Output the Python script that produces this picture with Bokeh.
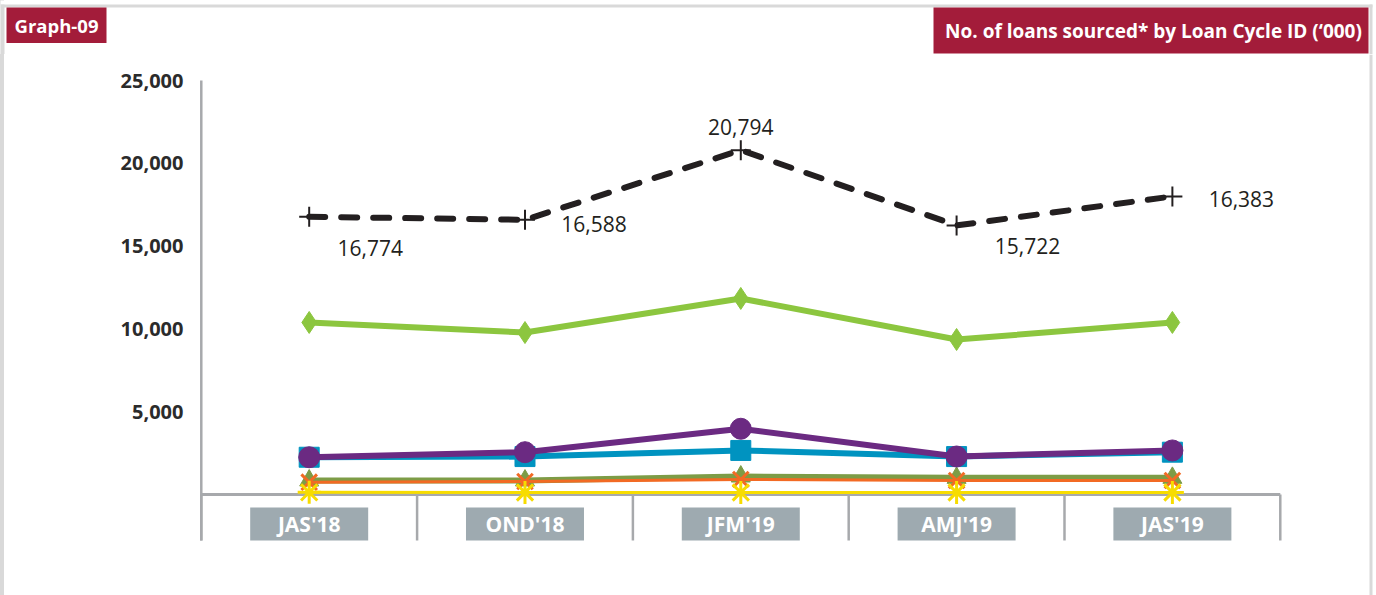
import numpy as np
from bokeh.plotting import figure
from bokeh.layouts import column
from bokeh.models import Range1d, LinearAxis, FixedTicker, NumeralTickFormatter, ColumnDataSource
from bokeh.core.properties import value
from bokeh.embed import file_html
from bokeh.resources import INLINE

# ---------------- data ----------------
categories = ["JAS'18", "OND'18", "JFM'19", "AMJ'19", "JAS'19"]
total_vals = [16774, 16588, 20794, 16250, 18000]
total_labels = ["16,774", "16,588", "20,794", "15,722", "16,383"]
green_vals = [10390, 9780, 11840, 9360, 10390]
purple_vals = [2250, 2555, 3970, 2295, 2660]
blue_vals = [2250, 2290, 2660, 2290, 2555]
olive_vals = [845, 845, 1085, 1005, 1005]
orange_vals = [745, 785, 905, 845, 845]
yellow_vals = [130, 120, 120, 120, 120]
y_ticks = [5000, 10000, 15000, 20000, 25000]
header_left = "Graph-09"
header_right = "No. of loans sourced* by Loan Cycle ID (\u2018000)"

# ---------------- styles ----------------
FONT = "Open Sans"
CRIMSON = "#a31c3a"
AXIS_GREY = "#a7a9ac"
FRAME_GREY = "#d9d9d9"
label_dx = [61, 69, 0, 71, 69]
label_dy = [31, 4, -23, 21, 3]

xpos = np.arange(len(categories)) + 0.5

# ---------------- header ----------------
W = 1376
HH = 54
h = figure(width=W, height=HH, x_range=Range1d(0, W), y_range=Range1d(HH, 0),
           output_backend="svg", toolbar_location=None, x_axis_type=None, y_axis_type=None,
           min_border=0)
h.frame_align = False
h.outline_line_color = None
h.grid.visible = False
# light grey page frame
h.quad(left=[0, 0, 1369], right=[1372, 4, 1372], top=[4, 4, 4], bottom=[7, HH, HH],
       fill_color=FRAME_GREY, line_color=None)
h.quad(left=[6, 933], right=[106, 1368], top=[7, 7], bottom=[42.6, 53],
       fill_color=CRIMSON, line_color=None)
h.text(x=[56], y=[25], text=[header_left], text_align="center", text_baseline="middle",
       text_color="white", text_font=value(FONT), text_font_style="bold", text_font_size="18.5px")
h.text(x=[1153], y=[30], text=[header_right], text_align="center", text_baseline="middle",
       text_color="white", text_font=value(FONT), text_font_style="bold", text_font_size="19px")

# ---------------- chart ----------------
PH = 595 - HH
px_per_unit = 414 / 25000.0
left_px = 190
x_px = 215.8
y_top = 25000 + (80 - HH) / px_per_unit
y_bot = -(595 - 494) / px_per_unit
x_end = -0.05 + (W - left_px) / x_px
p = figure(width=W, height=PH, x_range=Range1d(-0.05, x_end), y_range=Range1d(y_bot, y_top),
           output_backend="svg", toolbar_location=None, x_axis_type=None, y_axis_type=None,
           min_border_left=left_px, min_border_right=0, min_border_top=0, min_border_bottom=0)
p.frame_align = False
p.outline_line_color = None
p.background_fill_color = "white"
p.border_fill_color = None

yaxis = LinearAxis(ticker=FixedTicker(ticks=y_ticks), formatter=NumeralTickFormatter(format="0,0"))
yaxis.axis_line_color = None
yaxis.major_tick_line_color = None
yaxis.minor_tick_line_color = None
yaxis.major_label_standoff = 1
yaxis.major_label_text_font = FONT
yaxis.major_label_text_font_style = "bold"
yaxis.major_label_text_font_size = "20px"
yaxis.major_label_text_color = "#2b2b2b"
p.add_layout(yaxis, "left")

# right page-frame strip
frame_x = -0.05 + (1370.5 - left_px) / x_px
p.segment(x0=[frame_x], y0=[y_bot], x1=[frame_x], y1=[y_top], line_color=FRAME_GREY, line_width=3)

below = -46 / px_per_unit
# axis structure
p.segment(x0=[0], y0=[below], x1=[0], y1=[max(y_ticks)], line_color=AXIS_GREY, line_width=2.5)
bounds = list(range(len(categories) + 1))
p.segment(x0=bounds, y0=[0] * len(bounds), x1=bounds, y1=[below] * len(bounds),
          line_color=AXIS_GREY, line_width=2.5)
p.segment(x0=[0], y0=[0], x1=[len(categories)], y1=[0], line_color=AXIS_GREY, line_width=3)

# category label boxes
box_y = -29.5 / px_per_unit
p.rect(x=xpos, y=[box_y] * len(xpos), width=118, height=33, width_units="screen",
       height_units="screen", fill_color="#9eaab0", line_color=None)
p.text(x=xpos, y=[box_y] * len(xpos), text=categories, text_align="center", text_baseline="middle",
       text_color="white", text_font=value(FONT), text_font_style="bold", text_font_size="21px")

# series (bottom to top)
p.line(xpos, olive_vals, line_color="#7d9c46", line_width=6)
p.scatter(xpos, olive_vals, marker="triangle", size=19, fill_color="#7d9c46", line_color="#7d9c46")
p.line(xpos, orange_vals, line_color="#f26a24", line_width=3)
p.scatter(xpos, orange_vals, marker="x", size=22, line_color="#f26a24", line_width=3)
p.line(xpos, yellow_vals, line_color="#f7dc00", line_width=3)
p.scatter(xpos, yellow_vals, marker="asterisk", size=23, line_color="#f7dc00", line_width=3)
p.line(xpos, blue_vals, line_color="#0093c0", line_width=6)
p.scatter(xpos, blue_vals, marker="square", size=20, fill_color="#0093c0", line_color="#0093c0")
p.line(xpos, purple_vals, line_color="#6b2a82", line_width=6)
p.scatter(xpos, purple_vals, marker="circle", size=21, fill_color="#6b2a82", line_color="#6b2a82")
p.line(xpos, green_vals, line_color="#8cc63f", line_width=6)
p.scatter(xpos, green_vals, marker="diamond", size=22, fill_color="#8cc63f", line_color="#8cc63f")
p.line(xpos, total_vals, line_color="#231f20", line_width=6, line_dash="16 16", line_cap="round")
p.scatter(xpos, total_vals, marker="cross", size=20, line_color="#231f20", line_width=2)

src = ColumnDataSource(dict(x=xpos, y=total_vals, t=total_labels, dx=label_dx, dy=label_dy))
p.text(x="x", y="y", text="t", x_offset="dx", y_offset="dy", source=src, text_align="center",
       text_baseline="middle", text_color="#231f20", text_font=value(FONT), text_font_size="21px")

layout = column(h, p, spacing=0,
                styles={"background": "linear-gradient(to right, %s 0px, %s 4px, white 4px)"
                        % (FRAME_GREY, FRAME_GREY)})

open("out.html", "w").write(file_html(layout, INLINE))
